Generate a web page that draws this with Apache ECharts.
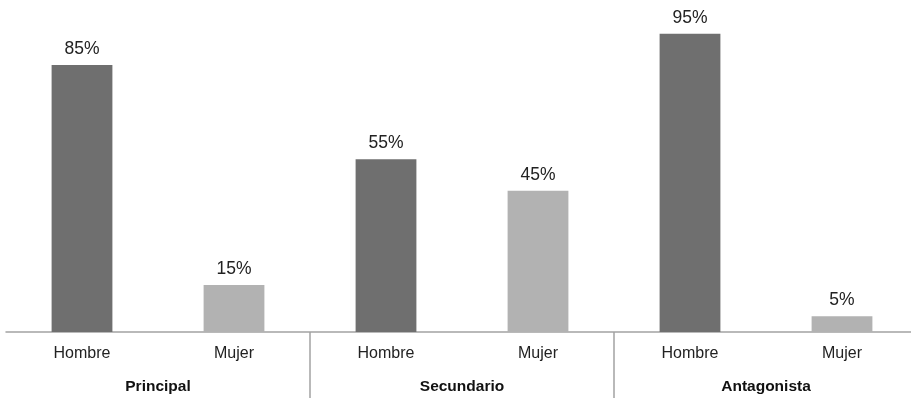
<!DOCTYPE html>
<html>
<head>
<meta charset="utf-8">
<script src="https://cdn.jsdelivr.net/npm/echarts@6/dist/echarts.min.js"></script>
<style>
  html, body { margin: 0; padding: 0; background: #fff; }
  #chart { width: 911px; height: 399px; }
</style>
</head>
<body>
<div id="chart"></div>
<script>
// Gender split of characters by role type
const genders = ['Hombre', 'Mujer', 'Hombre', 'Mujer', 'Hombre', 'Mujer'];
const roles = ['Principal', 'Secundario', 'Antagonista'];
const shares = [85, 15, 55, 45, 95, 5];

const DARK = '#6f6f6f';
const LIGHT = '#b2b2b2';
const FONT = '"Liberation Sans", Arial, sans-serif';

const chart = echarts.init(document.getElementById('chart'));
chart.setOption({
  animation: false,
  grid: { left: 6, width: 912, top: 18, height: 314, outerBoundsMode: 'none', containLabel: false },
  xAxis: [
    {
      type: 'category',
      data: genders,
      axisLine: { lineStyle: { color: '#a3a3a3', width: 1.5 } },
      axisTick: { show: false },
      axisLabel: { color: '#222', fontSize: 16, fontFamily: FONT, margin: 14 }
    },
    {
      type: 'category',
      data: roles,
      position: 'bottom',
      axisLine: { show: false },
      axisTick: {
        show: true,
        length: 66,
        interval: function (index) { return index > 0; },
        lineStyle: { color: '#a3a3a3', width: 1.5 }
      },
      axisLabel: { color: '#111', fontSize: 15.5, fontWeight: 'bold', fontFamily: FONT, margin: 47 }
    }
  ],
  yAxis: { type: 'value', min: 0, max: 100, show: false, splitLine: { show: false } },
  series: [{
    type: 'bar',
    xAxisIndex: 0,
    barWidth: '40%',
    data: shares.map((v, i) => ({ value: v, itemStyle: { color: i % 2 === 0 ? DARK : LIGHT } })),
    label: {
      show: true,
      position: 'top',
      distance: 7,
      color: '#222',
      fontSize: 17.5,
      fontFamily: FONT,
      formatter: p => p.value + '%'
    }
  }]
});
</script>
</body>
</html>
